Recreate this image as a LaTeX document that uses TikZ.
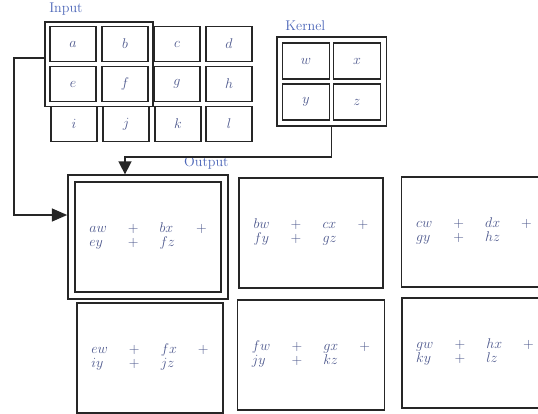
\documentclass[tikz,border=0pt]{standalone}
\usetikzlibrary{fit,arrows.meta}

\definecolor{labelblue}{rgb}{0.30,0.40,0.72}
\definecolor{letterblue}{rgb}{0.30,0.34,0.55}

\tikzset{
  cellbox/.style={draw=black!85, line width=1.4pt, minimum width=1.38cm, minimum height=1.05cm, text=letterblue, font=\large},
  kernbox/.style={cellbox, minimum width=1.41cm, minimum height=1.08cm},
  outbox/.style={draw=black!85, line width=1.4pt, minimum width=4.29cm, minimum height=3.3cm, text=letterblue, font=\fontsize{11.5}{12}\selectfont},
  hilite/.style={draw=black!85, line width=1.4pt, fit=#1},
  tag/.style={text=labelblue, inner sep=0pt, font=\large},
  link/.style={draw=black!85, line width=1.3pt}
}

\newcommand{\sumtext}[4]{$\arraycolsep=9pt\begin{array}{llll}
#1w & + & #2x & + \\ #3y & + & #4z & \end{array}$}

\begin{document}
\begin{tikzpicture}[x=0.03cm, y=-0.03cm]
\useasboundingbox (0,0) rectangle (538,413);
\clip (0,0) rectangle (538,413);

% input
\node[cellbox] (a) at (73,44) {$a$};
\node[cellbox] (b) at (125,44) {$b$};
\node[cellbox] (c) at (177,44) {$c$};
\node[cellbox] (d) at (229,44) {$d$};
\node[cellbox] (e) at (73,84) {$e$};
\node[cellbox] (f) at (125,84) {$f$};
\node[cellbox] (g) at (177,84) {$g$};
\node[cellbox] (h) at (229,84) {$h$};
\node[cellbox] (i) at (74,124) {$i$};
\node[cellbox] (j) at (126,124) {$j$};
\node[cellbox] (k) at (178,124) {$k$};
\node[cellbox] (l) at (229,124) {$l$};
\node[hilite={(a)(f)}, inner sep=0.12cm] (inHL) {};
\node[tag, anchor=south west] at ([xshift=4pt, yshift=5pt]inHL.north west) {Input};

% kernel
\node[kernbox] (w) at (306,61) {$w$};
\node[kernbox] (x) at (357,61) {$x$};
\node[kernbox] (y) at (306,102) {$y$};
\node[kernbox] (z) at (357,102) {$z$};
\node[hilite={(w)(z)}, inner sep=0.15cm] (kHL) {};
\node[tag, anchor=south west] at ([xshift=8pt, yshift=5pt]kHL.north west) {Kernel};

% output
\node[outbox] (o1) at (148,237) {\sumtext{a}{b}{e}{f}};
\node[outbox] (o2) at (311,233) {\sumtext{b}{c}{f}{g}};
\node[outbox] (o3) at (474,232) {\sumtext{c}{d}{g}{h}};
\node[outbox] (o4) at (150,358) {\sumtext{e}{f}{i}{j}};
\node[outbox] (o5) at (311,355) {\sumtext{f}{g}{j}{k}};
\node[outbox] (o6) at (475,353) {\sumtext{g}{h}{k}{l}};
\node[hilite={(o1)}, inner sep=0.18cm] (outHL) {};
\node[tag, anchor=south east] at ([yshift=4pt]outHL.north east) {Output};

% connectors
\coordinate (icorner) at (14,58);
\coordinate (icorner2) at (14,215);
\coordinate (kcorner) at (125,157);
\draw[link, -{Triangle[length=13pt, width=11pt]}]
  (icorner -| inHL.west) -- (icorner) -- (icorner2) -- (icorner2 -| outHL.west);
\draw[link, -{Triangle[length=11pt, width=11pt]}]
  (kHL.south) |- (kcorner) -- (kcorner |- outHL.north);
\end{tikzpicture}
\end{document}
